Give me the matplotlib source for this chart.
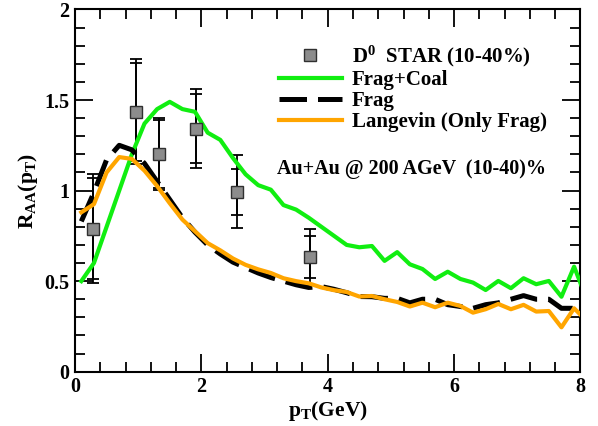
import matplotlib
matplotlib.use('Agg')
import matplotlib.pyplot as plt
from matplotlib.ticker import MultipleLocator

plt.rcParams['font.family'] = ['Liberation Serif', 'DejaVu Serif']
plt.rcParams['font.weight'] = 'bold'
plt.rcParams['axes.labelweight'] = 'bold'
plt.rcParams['mathtext.fontset'] = 'custom'
plt.rcParams['mathtext.rm'] = 'Liberation Serif:bold'
plt.rcParams['mathtext.it'] = 'Liberation Serif:bold'
plt.rcParams['mathtext.bf'] = 'Liberation Serif:bold'

# STAR D0 data (10-40%)
star_pt = [0.29, 0.96, 1.33, 1.91, 2.57, 3.72]
star_raa = [0.79, 1.436, 1.203, 1.341, 0.994, 0.635]
star_err_inner = [0.28, 0.27, 0.187, 0.19, 0.127, 0.115]
star_err_outer = [0.30, 0.29, 0.20, 0.218, 0.203, 0.155]

# model curves
pt = [0.1, 0.3, 0.5, 0.7, 0.9, 1.1, 1.3, 1.5, 1.7, 1.9, 2.1, 2.3, 2.5, 2.7, 2.9,
      3.1, 3.3, 3.5, 3.7, 3.9, 4.1, 4.3, 4.5, 4.7, 4.9, 5.1, 5.3, 5.5, 5.7, 5.9,
      6.1, 6.3, 6.5, 6.7, 6.9, 7.1, 7.3, 7.5, 7.7, 7.9, 8.1]
frag_coal = [0.50, 0.60, 0.80, 1.00, 1.20, 1.37, 1.45, 1.49, 1.45, 1.435, 1.32,
             1.28, 1.18, 1.09, 1.03, 1.005, 0.92, 0.895, 0.85, 0.80, 0.75, 0.70,
             0.687, 0.694, 0.612, 0.66, 0.593, 0.567, 0.512, 0.552, 0.512, 0.492,
             0.451, 0.501, 0.461, 0.516, 0.483, 0.501, 0.414, 0.58, 0.40]
frag = [0.83, 0.99, 1.17, 1.25, 1.225, 1.15, 1.05, 0.95, 0.85, 0.77, 0.70, 0.65,
        0.605, 0.575, 0.545, 0.52, 0.50, 0.48, 0.465, 0.47, 0.455, 0.436, 0.415,
        0.414, 0.405, 0.405, 0.38, 0.40, 0.40, 0.37, 0.36, 0.35, 0.37, 0.38, 0.40,
        0.42, 0.40, 0.40, 0.35, 0.35, 0.30]
langevin = [0.88, 0.925, 1.10, 1.185, 1.175, 1.11, 1.025, 0.93, 0.84, 0.775,
            0.71, 0.67, 0.625, 0.59, 0.565, 0.545, 0.516, 0.50, 0.488, 0.465,
            0.45, 0.44, 0.415, 0.418, 0.40, 0.385, 0.36, 0.381, 0.356, 0.381,
            0.363, 0.326, 0.345, 0.374, 0.345, 0.369, 0.332, 0.335, 0.245, 0.35,
            0.28]

fig = plt.figure(figsize=(5.98, 4.26), dpi=100)
ax = fig.add_axes([0.1254, 0.1275, 0.8452, 0.8502])

ax.errorbar(star_pt, star_raa, yerr=star_err_outer, fmt='none', ecolor='black',
            elinewidth=1.3, capsize=4, capthick=1.3, zorder=2)
ax.errorbar(star_pt, star_raa, yerr=star_err_inner, fmt='none', ecolor='black',
            elinewidth=1.3, capsize=4, capthick=1.3, zorder=2)
h_star, = ax.plot(star_pt, star_raa, ls='none', marker='s', ms=9,
                  mfc='#8c8c8c', mec='#303030', mew=1.0, zorder=5,
                  label=r'D$^{0}$  STAR (10-40%)')

h_fc, = ax.plot(pt, frag_coal, color='#11ee11', lw=3.0, zorder=3,
                label='Frag+Coal')
h_fr, = ax.plot(pt, frag, color='black', lw=3.6, dashes=(5.5, 2.2), zorder=3,
                label='Frag')
h_lg, = ax.plot(pt, langevin, color='#ffa500', lw=3.0, zorder=4,
                label='Langevin (Only Frag)')

ax.set_xlim(0, 8)
ax.set_ylim(0, 2)
ax.xaxis.set_major_locator(MultipleLocator(2))
ax.xaxis.set_minor_locator(MultipleLocator(0.4))
ax.yaxis.set_major_locator(MultipleLocator(0.5))
ax.yaxis.set_minor_locator(MultipleLocator(0.1))
ax.set_yticks([0, 0.5, 1, 1.5, 2])
ax.set_yticklabels(['0', '0.5', '1', '1.5', '2'])
ax.set_xticks([0, 2, 4, 6, 8])
ax.set_xticklabels(['0', '2', '4', '6', '8'])
ax.tick_params(which='both', direction='in', top=True, right=True,
               labelsize=14.5, width=1.3)
ax.tick_params(which='major', length=13, pad=4)
ax.tick_params(which='minor', length=7)
for lab in ax.get_xticklabels() + ax.get_yticklabels():
    lab.set_fontweight('bold')
for s in ax.spines.values():
    s.set_linewidth(1.5)

ax.set_xlabel(r'p$_\mathrm{T}$(GeV)', fontsize=15.5, fontweight='bold',
              labelpad=1)
ax.set_ylabel(r'R$_\mathrm{AA}$(p$_\mathrm{T}$)', fontsize=15.5,
              fontweight='bold', labelpad=3)

leg = ax.legend(handles=[h_star, h_fc, h_fr, h_lg], loc='upper left',
                bbox_to_anchor=(0.404, 0.905), frameon=False, fontsize=15,
                handlelength=3.0, handletextpad=0.5, labelspacing=0.05,
                borderpad=0, borderaxespad=0)

ax.text(0.40, 0.56, 'Au+Au @ 200 AGeV  (10-40)%', transform=ax.transAxes,
        fontsize=14.5, ha='left', va='center')

fig.savefig('out.png', dpi=100)
